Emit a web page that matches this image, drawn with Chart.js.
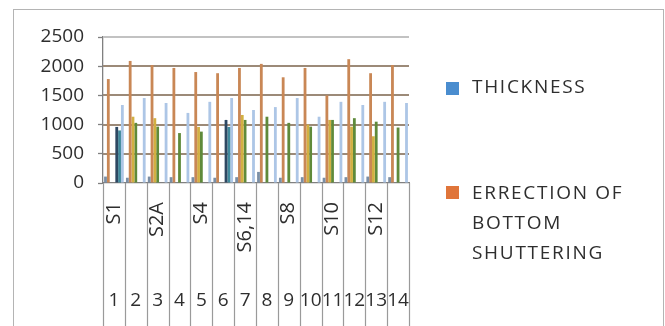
<!DOCTYPE html>
<html>
<head>
<meta charset="utf-8">
<script src="https://cdn.jsdelivr.net/npm/chart.js@4.4.1/dist/chart.umd.min.js"></script>
<style>
  html, body { margin: 0; padding: 0; background: #fff; }
  #wrap { position: relative; width: 665px; height: 326px; overflow: hidden; background: #fff; }
  #frame { position: absolute; left: 13px; top: 9px; width: 649px; height: 340px; border: 1px solid #b4b4b4; }
  #chart { position: absolute; left: 0; top: 0; }
  .legend { position: absolute; left: 446px; font-family: 'Open Sans', sans-serif; font-size: 19px;
            letter-spacing: 1.7px; color: #2e2e2e; line-height: 30px; white-space: nowrap; }
  .legend .sw { position: absolute; left: 0; width: 13px; height: 13px; }
  .legend .txt { position: absolute; left: 26px; }
</style>
</head>
<body>
<div id="wrap">
  <div id="frame"></div>
  <canvas id="chart" width="665" height="326"></canvas>
  <div class="legend" style="top:71px">
    <div class="sw" style="top:11px;background:#4A8DCF"></div>
    <div class="txt">THICKNESS</div>
  </div>
  <div class="legend" style="top:177px">
    <div class="sw" style="top:9px;background:#E0753A"></div>
    <div class="txt">ERRECTION OF<br>BOTTOM<br>SHUTTERING</div>
  </div>
</div>
<script>
// Slab numbers and the slab groups they belong to
const categories = ['1', '2', '3', '4', '5', '6', '7', '8', '9', '10', '11', '12', '13', '14'];
const groupLabels = ['S1', '', 'S2A', '', 'S4', '', 'S6,14', '', 'S8', '', 'S10', '', 'S12', ''];
const yTicks = [0, 500, 1000, 1500, 2000, 2500];

// Activity values per slab
const thickness        = [110, 90, 110, 100, 100, 90, 100, 190, 90, 100, 90, 100, 110, 100];
const bottomShuttering = [1780, 2090, 2020, 1970, 1900, 1880, 1970, 2040, 1810, 1970, 1500, 2120, 1880, 2020];
const series3          = [0, 1135, 1110, 0, 960, 0, 1165, 0, 0, 1000, 1080, 965, 800, 0];
const series4          = [0, 1030, 965, 855, 880, 0, 1080, 1135, 1030, 965, 1080, 1110, 1050, 950];
const series5          = [960, 0, 0, 0, 0, 1080, 0, 0, 0, 0, 0, 0, 0, 0];
const series6          = [900, 0, 0, 0, 0, 960, 0, 0, 0, 0, 0, 0, 0, 0];
const series7          = [1336, 1455, 1370, 1200, 1390, 1455, 1250, 1300, 1455, 1135, 1390, 1336, 1390, 1370];

const FONT = "'Open Sans', sans-serif";
const TEXT = '#2e2e2e';

// Horizontal value lines across the plot (top one lighter)
const valueLines = {
  id: 'valueLines',
  beforeDatasetsDraw(chart) {
    const sy = chart.scales.y;
    const sx = chart.scales.x;
    const ctx = chart.ctx;
    ctx.save();
    ctx.lineWidth = 2;
    yTicks.forEach(v => {
      if (v === 0) return;
      const py = Math.round(sy.getPixelForValue(v));
      ctx.strokeStyle = v === yTicks[yTicks.length - 1] ? '#c2c2c2' : '#9c8a78';
      ctx.beginPath();
      ctx.moveTo(sx.left, py);
      ctx.lineTo(sx.right, py);
      ctx.stroke();
    });
    ctx.restore();
  }
};

// Vertical separators running through both label rows of the category axis
const categorySeparators = {
  id: 'categorySeparators',
  afterDraw(chart) {
    const sx = chart.scales.x;
    const ctx = chart.ctx;
    const n = categories.length;
    const top = chart.chartArea.bottom;
    const bottom = chart.height;
    ctx.save();
    ctx.strokeStyle = '#9a9a9a';
    ctx.lineWidth = 1.2;
    for (let i = 0; i <= n; i++) {
      let px;
      if (i === 0) px = sx.left;
      else if (i === n) px = sx.right;
      else px = (sx.getPixelForValue(i - 1) + sx.getPixelForValue(i)) / 2;
      px = Math.round(px) + 0.5;
      ctx.beginPath();
      ctx.moveTo(px, top);
      ctx.lineTo(px, bottom);
      ctx.stroke();
    }
    ctx.restore();
  }
};

const mk = (label, data, color) => ({
  label, data, backgroundColor: color, borderWidth: 0,
  categoryPercentage: 0.9, barPercentage: 1.0
});

new Chart(document.getElementById('chart'), {
  type: 'bar',
  data: {
    labels: categories,
    datasets: [
      mk('THICKNESS', thickness, '#7B8FA6'),
      mk('ERRECTION OF BOTTOM SHUTTERING', bottomShuttering, '#C98755'),
      mk('Series 3', series3, '#D2B042'),
      mk('Series 4', series4, '#5F8A3A'),
      mk('Series 5', series5, '#2E4862'),
      mk('Series 6', series6, '#3F8A9C'),
      mk('Series 7', series7, '#ADC6E6')
    ]
  },
  options: {
    responsive: false,
    animation: false,
    events: [],
    layout: { padding: { top: 37, right: 256, bottom: 0, left: 0 } },
    plugins: { legend: { display: false }, tooltip: { enabled: false } },
    scales: {
      y: {
        min: 0, max: 2500,
        afterBuildTicks: s => { s.ticks = yTicks.map(v => ({ value: v })); },
        afterFit: s => { s.width = 103; },
        border: { display: true, color: '#808080', width: 1.3 },
        grid: {
          drawOnChartArea: false,
          tickLength: 5,
          tickColor: '#808080',
          tickWidth: 1.3
        },
        ticks: {
          padding: 14, color: TEXT, font: { family: FONT, size: 19 },
          callback: v => String(v)
        }
      },
      x: {
        type: 'category',
        labels: groupLabels,
        offset: true,
        afterFit: s => { s.height = 92; },
        border: { display: true, color: '#808080', width: 1.3 },
        grid: { display: false, drawTicks: false },
        ticks: {
          autoSkip: false, minRotation: 90, maxRotation: 90, padding: 19,
          color: TEXT, font: { family: FONT, size: 20 }
        }
      },
      x2: {
        type: 'category',
        labels: categories,
        offset: true,
        afterFit: s => { s.height = 51; },
        border: { display: false },
        grid: { display: false, drawTicks: false },
        ticks: {
          autoSkip: false, maxRotation: 0, padding: 14,
          color: TEXT, font: { family: FONT, size: 19 }
        }
      }
    }
  },
  plugins: [valueLines, categorySeparators]
});
</script>
</body>
</html>
